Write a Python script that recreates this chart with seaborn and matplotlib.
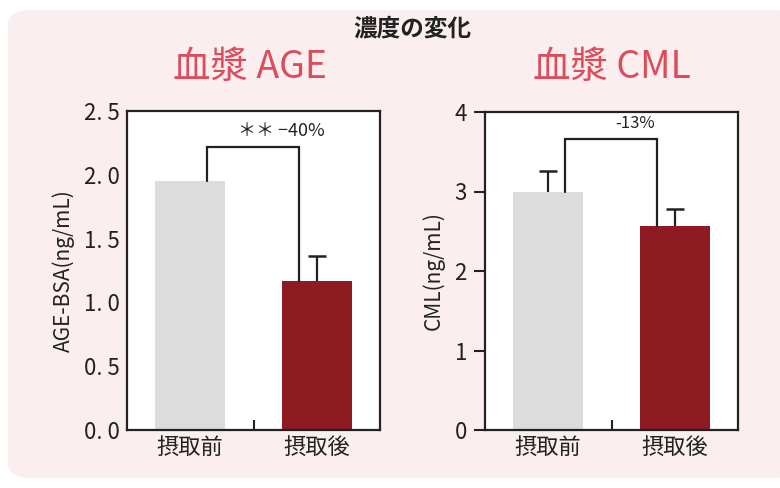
import matplotlib
matplotlib.use("Agg")
import matplotlib.pyplot as plt
from matplotlib.patches import FancyBboxPatch
import seaborn as sns
import pandas as pd

# ---- data ----
categories = ["摂取前", "摂取後"]
age_values = [1.95, 1.17]
age_err = [0.0, 0.195]
cml_values = [3.00, 2.56]
cml_err = [0.26, 0.22]
age_bracket_y = 2.22
cml_bracket_y = 3.66
age_note = "＊＊ −40%"
cml_note = "-13%"
age_yticks = [0.0, 0.5, 1.0, 1.5, 2.0, 2.5]
age_yticklabels = ["0. 0", "0. 5", "1. 0", "1. 5", "2. 0", "2. 5"]
cml_yticks = [0, 1, 2, 3, 4]

sns.set_theme(style="white")
plt.rcParams["font.family"] = ["Noto Sans CJK JP", "DejaVu Sans"]

W, H = 780, 488
fig = plt.figure(figsize=(W / 100, H / 100), dpi=100)
fig.patch.set_facecolor("white")

# pink rounded background panel
bg = FancyBboxPatch((8 / W, 10 / H), 790 / W, 468 / H,
                    boxstyle="round,pad=0,rounding_size=0.03",
                    transform=fig.transFigure, facecolor="#fbeeee",
                    edgecolor="none", zorder=-5)
fig.patches.append(bg)

colors = ["#dcdcdc", "#8e1a22"]
title_red = "#de4c5c"
ink = "#222222"

fig.text(412 / W, 1 - 28 / H, "濃度の変化", ha="center", va="center",
         fontsize=17, fontweight="bold", color=ink)
fig.text(250 / W, 1 - 67 / H, "血漿 AGE", ha="center", va="center",
         fontsize=27, color=title_red)
fig.text(612 / W, 1 - 67 / H, "血漿 CML", ha="center", va="center",
         fontsize=27, color=title_red)


def panel(rect, values, errs, bracket_y, note, note_x, note_fs, ylim, yticks,
          yticklabels, ylabel, ticklen):
    ax = fig.add_axes(rect)
    ax.set_zorder(2)
    ax.set_facecolor("white")
    df = pd.DataFrame({"cat": categories, "val": values})
    sns.barplot(data=df, x="cat", y="val", hue="cat", palette=colors,
                saturation=1, width=0.55, ax=ax, legend=False, errorbar=None,
                edgecolor="none", linewidth=0, zorder=2)
    for i, (v, e) in enumerate(zip(values, errs)):
        if e > 0:
            ax.errorbar(i, v, yerr=[[0], [e]], fmt="none", ecolor=ink,
                        elinewidth=1.6, capsize=0, zorder=3)
            ax.plot([i], [v + e], marker="_", markersize=13, mew=1.8,
                    color=ink, zorder=3)
    # bracket
    lx, rx = 0.13, 1 - 0.14
    ax.plot([lx, lx, rx, rx], [values[0], bracket_y, bracket_y, values[1]],
            color=ink, lw=1.6, zorder=4, solid_joinstyle="miter")
    ax.text(note_x, bracket_y + (ylim[1] - ylim[0]) * 0.05, note,
            ha="center", va="center", fontsize=note_fs, color=ink)
    ax.set_xlim(-0.5, 1.5)
    ax.set_ylim(*ylim)
    ax.set_yticks(yticks)
    ax.set_yticklabels(yticklabels, fontsize=16, color=ink)
    ax.set_xticks([0, 1])
    ax.set_xticklabels(categories, fontsize=16, color=ink)
    ax.set_xticks([0.5], minor=True)
    ax.tick_params(axis="x", which="major", length=0, pad=4)
    ax.tick_params(axis="x", which="minor", direction="in", length=7,
                   width=1.5, color=ink, bottom=True)
    ax.tick_params(axis="y", which="major", length=ticklen, width=1.5,
                   color=ink, left=True, pad=5)
    ax.set_xlabel("")
    ax.set_ylabel(ylabel, fontsize=15, color=ink, labelpad=7)
    for s in ax.spines.values():
        s.set_visible(True)
        s.set_color(ink)
        s.set_linewidth(1.6)
    return ax


ax1 = panel([127 / W, 58 / H, 253 / W, 319 / H], age_values, age_err,
            age_bracket_y, age_note, 0.72, 13, (0, 2.5), age_yticks,
            age_yticklabels, "AGE-BSA(ng/mL)", 0)
ax2 = panel([485 / W, 58 / H, 253 / W, 318 / H], cml_values, cml_err,
            cml_bracket_y, cml_note, 0.69, 12, (0, 4), cml_yticks,
            [str(t) for t in cml_yticks], "CML(ng/mL)", 8)

fig.savefig("out.png", dpi=100, facecolor="white")
